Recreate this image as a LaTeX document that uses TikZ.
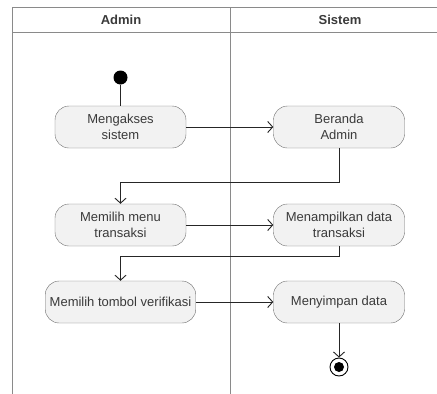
\documentclass[tikz,border=0pt]{standalone}
\usepackage{fontspec}
\setmainfont{Liberation Sans}
\usepackage{xcolor}
\usepackage{tikz}
\usetikzlibrary{arrows,arrows.meta,shapes,positioning}
\definecolor{actfill}{HTML}{F2F2F2}
\definecolor{actline}{HTML}{6E6E6E}
\definecolor{lanecol}{HTML}{8A8A8A}
\definecolor{txtcol}{HTML}{3A3A3A}
\tikzstyle{act}=[draw=actline, fill=actfill, rounded corners=14pt, minimum width=131pt, minimum height=42pt, inner xsep=4.5pt, align=center, text=txtcol, font=\fontsize{13}{16}\selectfont]
\tikzstyle{lane}=[draw=lanecol, line width=0.9pt]
\tikzstyle{flow}=[draw=black!85, line width=0.9pt, -{Straight Barb[length=5pt,width=11pt]}]
\tikzstyle{initial}=[circle, fill=black, minimum size=14pt, inner sep=0pt]
\tikzstyle{final}=[circle, draw=black, line width=0.9pt, fill=white, minimum size=18pt, inner sep=0pt]

\begin{document}
\begin{tikzpicture}[x=1pt,y=1pt]
\useasboundingbox (0,0) rectangle (437,-394);
% swimlanes
\draw[lane] (12,-394) -- (12,-7) -- (437,-7);
\draw[lane] (12,-32) -- (437,-32);
\draw[lane] (230,-7) -- (230,-394);
\node [font=\fontsize{13}{16}\selectfont\bfseries, text=txtcol] (hadmin) at (121,-19.5) {Admin};
\node [font=\fontsize{13}{16}\selectfont\bfseries, text=txtcol] (hsistem) at (340,-19.5) {Sistem};

\node [act] (akses) at (120.5,-127) {Mengakses\\sistem};
\node [initial, above of=akses, node distance=49.5pt] (start) {};
\node [act, right of=akses, node distance=218.5pt] (beranda) {Beranda\\Admin};
\node [act, below of=akses, node distance=98pt] (menu) {Memilih menu\\transaksi};
\node [act, right of=menu, node distance=218.5pt] (tampil) {Menampilkan data\\transaksi};
\node [act, below of=menu, node distance=77pt] (tombol) {Memilih tombol verifikasi};
\node [act, right of=tombol, node distance=218.5pt] (simpan) {Menyimpan data};
\node [final, below of=simpan, node distance=65pt] (stop) {};
\fill (stop) circle (5pt);

\draw[black!85, line width=0.9pt] (start) -- (akses);
\draw[flow] (akses) -- (beranda);
\draw[flow] (beranda.south) -- ++(0,-34) -| (menu.north);
\draw[flow] (menu) -- (tampil);
\draw[flow] (tampil.south) -- ++(0,-10) -| (tombol.north);
\draw[flow] (tombol) -- (simpan);
\draw[flow] (simpan) -- (stop);
\end{tikzpicture}
\end{document}
